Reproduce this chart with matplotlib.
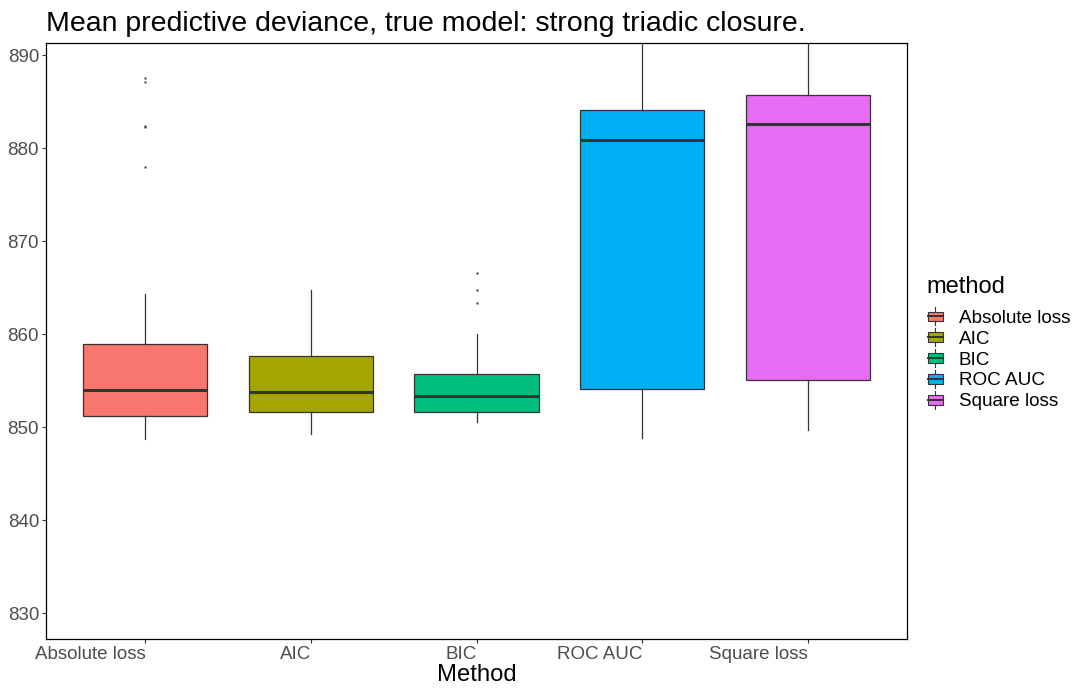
import matplotlib
matplotlib.use("Agg")
import matplotlib.pyplot as plt
from matplotlib.legend_handler import HandlerBase
from matplotlib.patches import Rectangle
from matplotlib.lines import Line2D

plt.rcParams['font.family'] = ['Liberation Sans', 'DejaVu Sans']

methods = ['Absolute loss', 'AIC', 'BIC', 'ROC AUC', 'Square loss']
colors = ['#F8766D', '#A3A500', '#00BF7D', '#00B0F6', '#E76BF3']

# box statistics per method
q1 = [851.2, 851.6, 851.6, 854.1, 855.1]
med = [854.0, 853.8, 853.3, 880.9, 882.6]
q3 = [858.9, 857.6, 855.7, 884.1, 885.7]
whislo = [848.7, 849.3, 850.6, 848.8, 849.7]
whishi = [864.3, 864.7, 860.0, 894.0, 895.5]
fliers = [[887.5, 887.1, 882.4, 882.3, 878.0],
          [],
          [866.6, 864.7, 863.4],
          [],
          []]

stats = []
for i, m in enumerate(methods):
    stats.append(dict(label=m, q1=q1[i], med=med[i], q3=q3[i],
                      whislo=whislo[i], whishi=whishi[i], fliers=fliers[i]))

edge = '#333333'

fig = plt.figure(figsize=(10.76, 6.89), dpi=100)
ax = fig.add_axes([0.0428, 0.073, 0.8001, 0.865])

bp = ax.bxp(stats, positions=range(len(methods)), widths=0.75,
            patch_artist=True, showcaps=False,
            boxprops=dict(edgecolor=edge, linewidth=0.9),
            medianprops=dict(color=edge, linewidth=2.2),
            whiskerprops=dict(color=edge, linewidth=0.9),
            flierprops=dict(marker='s', markersize=1.4, markerfacecolor=edge,
                            markeredgecolor='none'))
for patch, c in zip(bp['boxes'], colors):
    patch.set_facecolor(c)

ax.set_xlim(-0.6, 4.6)
ax.set_ylim(827.27, 891.32)
ax.set_yticks([830, 840, 850, 860, 870, 880, 890])
ax.set_xticks(range(len(methods)))
ax.set_xticklabels(methods, ha='right')

for s in ax.spines.values():
    s.set_color('black')
    s.set_linewidth(0.9)
ax.tick_params(axis='both', colors='#333333', length=3, width=0.8,
               labelsize=13.5, labelcolor='#4D4D4D', pad=2)

ax.set_xlabel('Method', fontsize=17.2, color='black', labelpad=1)
ax.set_title('Mean predictive deviance, true model: strong triadic closure.',
             loc='left', fontsize=20.5, color='black', pad=8.5)


class BoxKey(HandlerBase):
    def create_artists(self, legend, orig_handle, xdescent, ydescent,
                       width, height, fontsize, trans):
        cx = width / 2 - xdescent
        w = 11
        h = height * 0.62
        y0 = -ydescent + (height - h) / 2
        stem = Line2D([cx, cx], [-ydescent - 1, -ydescent + height + 1],
                      color=edge, linewidth=0.8, transform=trans)
        box = Rectangle((cx - w / 2, y0), w, h, facecolor=orig_handle.get_facecolor(),
                        edgecolor=edge, linewidth=0.8, transform=trans)
        mid = Line2D([cx - w / 2, cx + w / 2], [y0 + h / 2, y0 + h / 2],
                     color=edge, linewidth=1.4, transform=trans)
        return [stem, box, mid]


handles = [Rectangle((0, 0), 1, 1, facecolor=c) for c in colors]
leg = fig.legend(handles, methods, handler_map={Rectangle: BoxKey()},
                 loc='upper left', bbox_to_anchor=(0.854, 0.61),
                 title='method', title_fontsize=17, fontsize=13.6,
                 frameon=False, handlelength=0.95, handleheight=0.85,
                 handletextpad=0.75, labelspacing=0.15, borderaxespad=0)
leg._legend_box.align = 'left'
leg._legend_box.sep = 7.5

fig.savefig('out.png', dpi=100)
